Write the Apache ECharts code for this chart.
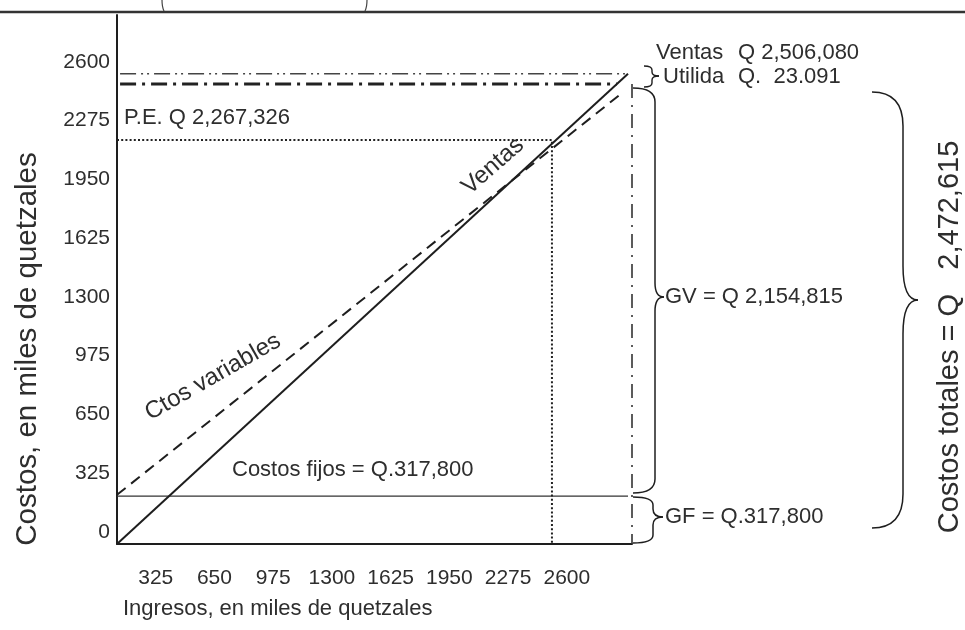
<!DOCTYPE html>
<html><head><meta charset="utf-8">
<script src="https://cdn.jsdelivr.net/npm/echarts@6/dist/echarts.min.js"></script>
<style>html,body{margin:0;padding:0;background:#fff}#c{width:965px;height:630px}</style>
</head><body><div id="c"></div>
<script>
// Tick labels
const xTicks = [325, 650, 975, 1300, 1625, 1950, 2275, 2600];
const yTicks = [0, 325, 650, 975, 1300, 1625, 1950, 2275, 2600];
// Series (in axis units)
const ventas = [[0, 0], [2828, 2600]];
const costosVariables = [[0, 272], [2795, 2494]];
const costosFijos = [[0, 265], [2828, 265]];
const puntoEquilibrio = [[0, 2234], [2407, 2234], [2407, 0]];
const nivelVentas = [[17, 2600], [2811, 2600]];
const nivelCostosTotales = [[17, 2543], [2767, 2543]];
const volumenVentas = [[2850, 2543], [2850, 0]];

const FONT = "'Liberation Sans', Arial, sans-serif";
const INK = '#1e1e1e';
const TXT = '#2e2e2e';

function lineSeries(data, style, z) {
  return { type: 'line', data: data, symbol: 'none', silent: true, animation: false,
    clip: false, z: z || 2, lineStyle: Object.assign({ color: INK, width: 1.5 }, style) };
}
function brace(xEnd, xMid, xTip, yTop, yTip, yBot, r, w) {
  const st = { stroke: INK, lineWidth: w || 1.5, fill: null };
  return [
    { type: 'bezierCurve', shape: { x1: xEnd, y1: yTop, cpx1: xMid, cpy1: yTop, x2: xMid, y2: yTop + r }, style: st },
    { type: 'line', shape: { x1: xMid, y1: yTop + r, x2: xMid, y2: yTip - r }, style: st },
    { type: 'bezierCurve', shape: { x1: xMid, y1: yTip - r, cpx1: xMid, cpy1: yTip, x2: xTip, y2: yTip }, style: st },
    { type: 'bezierCurve', shape: { x1: xTip, y1: yTip, cpx1: xMid, cpy1: yTip, x2: xMid, y2: yTip + r }, style: st },
    { type: 'line', shape: { x1: xMid, y1: yTip + r, x2: xMid, y2: yBot - r }, style: st },
    { type: 'bezierCurve', shape: { x1: xMid, y1: yBot - r, cpx1: xMid, cpy1: yBot, x2: xEnd, y2: yBot }, style: st }
  ];
}
function txt(text, x, y, size, opts) {
  opts = opts || {};
  return { type: 'text', x: x, y: y, rotation: opts.rot || 0, z: 10,
    style: { text: text, x: 0, y: 0, fill: TXT, font: size + 'px ' + FONT,
      textAlign: opts.align || 'left', textVerticalAlign: 'middle' } };
}

const graphics = [
  { type: 'line', shape: { x1: 0, y1: 12, x2: 965, y2: 12 }, style: { stroke: '#333', lineWidth: 2.5 } },
  { type: 'bezierCurve', shape: { x1: 162, y1: 0, cpx1: 162, cpy1: 7, x2: 164, y2: 11 }, style: { stroke: '#444', lineWidth: 1.2, fill: null } },
  { type: 'bezierCurve', shape: { x1: 367, y1: 0, cpx1: 367, cpy1: 7, x2: 365, y2: 11 }, style: { stroke: '#444', lineWidth: 1.2, fill: null } },
  txt('Ventas', 656, 53, 22),
  txt('Q 2,506,080', 738, 53, 22),
  txt('Utilida', 663, 77, 22),
  txt('Q.  23.091', 738, 77, 22),
  txt('P.E. Q 2,267,326', 124, 118, 22),
  txt('Costos fijos = Q.317,800', 232, 470, 22),
  txt('GV = Q 2,154,815', 665, 297, 22),
  txt('GF = Q.317,800', 665, 517, 22),
  txt('Ventas', 493, 166, 24, { align: 'center', rot: 0.72 }),
  txt('Ctos variables', 213, 377, 24, { align: 'center', rot: 0.52 }),
  txt('Ingresos, en miles de quetzales', 123, 609, 22),
  txt('Costos, en miles de quetzales', 28, 349, 29.5, { align: 'center', rot: Math.PI / 2 }),
  txt('Costos totales = Q   2,472,615', 950, 337, 29, { align: 'center', rot: Math.PI / 2 })
]
  .concat(brace(644, 652, 659, 66, 76, 87, 4, 1.4))
  .concat(brace(633, 655, 664, 88, 297, 493, 14, 1.5))
  .concat(brace(633, 653, 663, 497, 517, 543, 8, 1.5))
  .concat(brace(872, 903, 918, 92, 300, 528, 34, 1.5));

const chart = echarts.init(document.getElementById('c'));
chart.setOption({
  backgroundColor: '#fff',
  animation: false,
  grid: { left: 117, top: 15, width: 515, height: 529 },
  xAxis: {
    type: 'value', min: 0, max: 2850, interval: 325,
    axisLine: { onZero: false, lineStyle: { color: INK, width: 2 } },
    axisTick: { show: false }, splitLine: { show: false },
    axisLabel: { margin: 24, padding: [0, 40, 0, 0], fontSize: 21, fontFamily: FONT, color: TXT,
      formatter: v => xTicks.includes(v) ? String(v) : '' }
  },
  yAxis: {
    type: 'value', min: 0, max: 2925, interval: 325,
    axisLine: { show: true, onZero: false, lineStyle: { color: INK, width: 2 } },
    axisTick: { show: false }, splitLine: { show: false },
    axisLabel: { margin: 7, verticalAlign: 'bottom', lineHeight: 24, fontSize: 21, fontFamily: FONT, color: TXT,
      formatter: v => yTicks.includes(v) ? String(v) : '' }
  },
  series: [
    lineSeries(costosFijos, { width: 1.2, color: '#333' }),
    lineSeries(nivelVentas, { width: 1.5, color: '#444', type: [16, 5, 2, 4, 2, 5] }),
    lineSeries(nivelCostosTotales, { width: 3, color: '#222', type: [16, 6, 3, 6] }),
    lineSeries(volumenVentas, { width: 1.6, color: '#333', type: [14, 7, 2, 7] }),
    lineSeries(puntoEquilibrio, { width: 2, color: '#222', type: [2, 2.2] }),
    lineSeries(costosVariables, { width: 2, type: [11, 7] }),
    lineSeries(ventas, { width: 2 }, 3)
  ],
  graphic: { elements: graphics }
});
</script></body></html>
